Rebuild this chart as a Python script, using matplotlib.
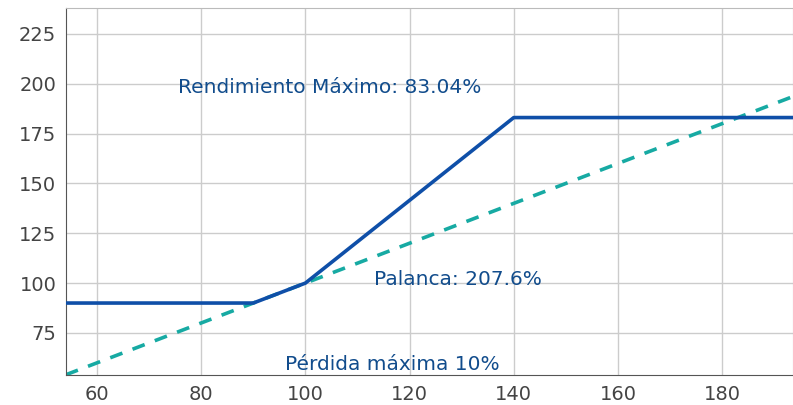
import matplotlib.pyplot as plt

# payoff data
payoff_x = [54, 90, 100, 140, 194]
payoff_y = [90, 90, 100, 183.04, 183.04]
ref_x = [54, 194]
ref_y = [54, 194]

xticks = [60, 80, 100, 120, 140, 160, 180]
yticks = [75, 100, 125, 150, 175, 200, 225]

fig = plt.figure(figsize=(7.93, 4.05), dpi=100)
ax = fig.add_axes([66 / 793, 30 / 405, 727 / 793, 367 / 405])

ax.plot(ref_x, ref_y, '--', color='#17aaa3', lw=2.6, dashes=(3.6, 3.0), zorder=2)
ax.plot(payoff_x, payoff_y, '-', color='#0f4fa8', lw=2.6, zorder=3)

ax.set_xlim(54.05, 193.6)
ax.set_ylim(53.9, 238)
ax.set_xticks(xticks)
ax.set_yticks(yticks)
ax.grid(True, color='#cccccc', lw=1)
ax.set_axisbelow(True)
ax.tick_params(length=0, labelsize=14, colors='#444444', pad=7)
for s in ['top', 'right']:
    ax.spines[s].set_color('#bbbbbb')
for s in ['left', 'bottom']:
    ax.spines[s].set_color('#555555')

txt = dict(color='#114c8c', fontsize=14.5, ha='center', va='center')
ax.text(104.7, 197.9, 'Rendimiento Máximo: 83.04%', **txt)
ax.text(129.3, 101.6, 'Palanca: 207.6%', **txt)
ax.text(116.6, 59.4, 'Pérdida máxima 10%', **txt)

plt.savefig('out.png')
